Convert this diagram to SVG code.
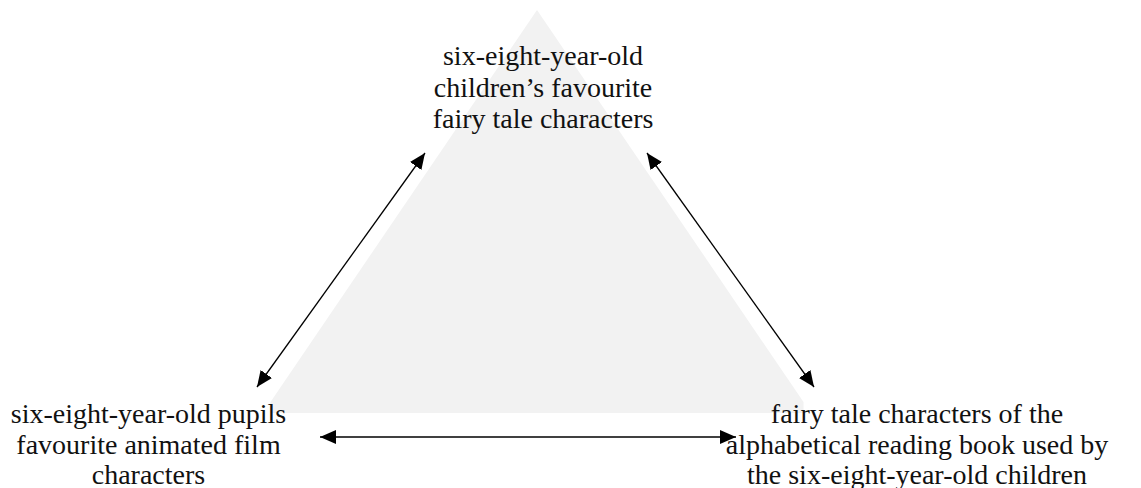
<svg xmlns="http://www.w3.org/2000/svg" width="1141" height="488" viewBox="0 0 1141 488">
<style>
.lbl{font-family:"Liberation Serif","Times New Roman",serif;font-size:28px;fill:#111;text-anchor:middle}
.conn{stroke:#000;stroke-width:1.3;fill:none;marker-start:url(#ah);marker-end:url(#ah)}
</style>
<defs>
<marker id="ah" markerUnits="userSpaceOnUse" markerWidth="17" markerHeight="15" refX="16" refY="7" orient="auto-start-reverse" viewBox="0 0 17 15">
<path d="M0,0 L16,7 L0,14 z" fill="#000"/>
</marker>
</defs>
<rect width="1141" height="488" fill="#fff"/>
<g id="triangle">
<polygon points="537,10 803.5,402 803.5,413 270.5,413 270.5,402" fill="#f2f2f2"/>
</g>
<g id="connectors">
<line class="conn" x1="425" y1="153" x2="257" y2="387"/>
<line class="conn" x1="647" y1="153" x2="814" y2="387"/>
<line class="conn" x1="320" y1="437" x2="736" y2="437"/>
</g>
<g id="node-top">
<text class="lbl" x="543" y="65">six-eight-year-old</text>
<text class="lbl" x="543" y="96.5">children’s favourite</text>
<text class="lbl" x="543" y="128">fairy tale characters</text>
</g>
<g id="node-left">
<text class="lbl" x="148.5" y="423">six-eight-year-old pupils</text>
<text class="lbl" x="148.5" y="453.5">favourite animated film</text>
<text class="lbl" x="148.5" y="484">characters</text>
</g>
<g id="node-right">
<text class="lbl" x="917" y="423">fairy tale characters of the</text>
<text class="lbl" x="917" y="453.5">alphabetical reading book used by</text>
<text class="lbl" x="917" y="484">the six-eight-year-old children</text>
</g>
</svg>
